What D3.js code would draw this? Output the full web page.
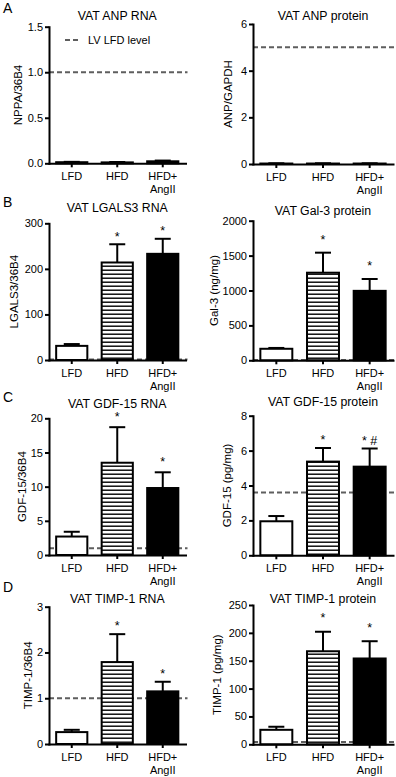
<!DOCTYPE html>
<html>
<head>
<meta charset="utf-8">
<script src="https://cdn.jsdelivr.net/npm/d3@7"></script>
<style>
  body { margin: 0; background: #fff; }
  svg { display: block; font-family: "Liberation Sans", Arial, sans-serif; }
</style>
</head>
<body>
<svg id="chart" width="396" height="777"></svg>
<script>
// groups (x categories), second line of the label after "\n"
const groups = ["LFD", "HFD", "HFD+\nAngII"];

// A: ANP
const anpRnaMean = [0.012, 0.010, 0.022];
const anpRnaSem = [0.004, 0.004, 0.008];
const anpRnaTicks = [0, 0.5, 1.0, 1.5];
const anpRnaStars = ["", "", ""];
const anpProtMean = [0.02, 0.02, 0.02];
const anpProtSem = [0.01, 0.01, 0.01];
const anpProtTicks = [0, 2, 4, 6];
const anpProtStars = ["", "", ""];

// B: LGALS3 / Gal-3
const lgals3RnaMean = [31, 214, 233];
const lgals3RnaSem = [4, 40, 33];
const lgals3RnaTicks = [0, 100, 200, 300];
const lgals3RnaStars = ["", "*", "*"];
const gal3ProtMean = [165, 1255, 995];
const gal3ProtSem = [12, 287, 170];
const gal3ProtTicks = [0, 500, 1000, 1500, 2000];
const gal3ProtStars = ["", "*", "*"];

// C: GDF-15
const gdf15RnaMean = [2.7, 13.5, 9.8];
const gdf15RnaSem = [0.7, 5.2, 2.3];
const gdf15RnaTicks = [0, 5, 10, 15, 20];
const gdf15RnaStars = ["", "*", "*"];
const gdf15ProtMean = [1.95, 5.37, 5.08];
const gdf15ProtSem = [0.3, 0.78, 1.04];
const gdf15ProtTicks = [0, 2, 4, 6, 8];
const gdf15ProtStars = ["", "*", "* #"];

// D: TIMP-1
const timp1RnaMean = [0.26, 1.79, 1.15];
const timp1RnaSem = [0.05, 0.61, 0.21];
const timp1RnaTicks = [0, 1, 2, 3];
const timp1RnaStars = ["", "*", "*"];
const timp1ProtMean = [26, 167, 154];
const timp1ProtSem = [5.5, 35, 31];
const timp1ProtTicks = [0, 50, 100, 150, 200, 250];
const timp1ProtStars = ["", "*", "*"];

// LV LFD reference level per panel
const refLevels = { anpRna: 1.0, anpProt: 5, lgals3Rna: 1, gal3Prot: 5, gdf15Rna: 1.0, gdf15Prot: 3.6, timp1Rna: 1.0, timp1Prot: 4 };

const cols = [{ x0: 49, x1: 185.5 }, { x0: 253, x1: 393 }];

const panels = [
  { key: "anpRna", col: 0, letter: "A", letterY: 13, title: "VAT ANP RNA", titleY: 20, ylabel: "NPPA/36B4", ylabX: 18,
    mean: anpRnaMean, sem: anpRnaSem, ticks: anpRnaTicks, stars: anpRnaStars, fmt: ".1f", yb: 163.3, yt: 26.7, starGap: 12, legend: true },
  { key: "anpProt", col: 1, title: "VAT ANP protein", titleY: 20, ylabel: "ANP/GAPDH", ylabX: 228,
    mean: anpProtMean, sem: anpProtSem, ticks: anpProtTicks, stars: anpProtStars, fmt: "d", yb: 164, yt: 24, starGap: 12 },
  { key: "lgals3Rna", col: 0, letter: "B", letterY: 207, title: "VAT LGALS3 RNA", titleY: 212, ylabel: "LGALS3/36B4", ylabX: 13.5,
    mean: lgals3RnaMean, sem: lgals3RnaSem, ticks: lgals3RnaTicks, stars: lgals3RnaStars, fmt: "d", yb: 360, yt: 223.3, starGap: 10.5 },
  { key: "gal3Prot", col: 1, title: "VAT Gal-3 protein", titleY: 215, ylabel: "Gal-3 (ng/mg)", ylabX: 214,
    mean: gal3ProtMean, sem: gal3ProtSem, ticks: gal3ProtTicks, stars: gal3ProtStars, fmt: "d", yb: 360.3, yt: 220.7, starGap: 15.5 },
  { key: "gdf15Rna", col: 0, letter: "C", letterY: 402, title: "VAT GDF-15 RNA", titleY: 408, ylabel: "GDF-15/36B4", ylabX: 22,
    mean: gdf15RnaMean, sem: gdf15RnaSem, ticks: gdf15RnaTicks, stars: gdf15RnaStars, fmt: "d", yb: 555, yt: 418.3, starGap: 13 },
  { key: "gdf15Prot", col: 1, title: "VAT GDF-15 protein", titleY: 406, ylabel: "GDF-15 (pg/mg)", ylabX: 227.3,
    mean: gdf15ProtMean, sem: gdf15ProtSem, ticks: gdf15ProtTicks, stars: gdf15ProtStars, fmt: "d", yb: 555.3, yt: 415.7, starGap: 11 },
  { key: "timp1Rna", col: 0, letter: "D", letterY: 592, title: "VAT TIMP-1 RNA", titleY: 603, ylabel: "TIMP-1/36B4", ylabX: 27.5,
    mean: timp1RnaMean, sem: timp1RnaSem, ticks: timp1RnaTicks, stars: timp1RnaStars, fmt: "d", yb: 744, yt: 606.7, starGap: 11 },
  { key: "timp1Prot", col: 1, title: "VAT TIMP-1 protein", titleY: 603, ylabel: "TIMP-1 (pg/mg)", ylabX: 216.5,
    mean: timp1ProtMean, sem: timp1ProtSem, ticks: timp1ProtTicks, stars: timp1ProtStars, fmt: "d", yb: 744.3, yt: 605, starGap: 16.5 }
];

const svg = d3.select("#chart");

// horizontal stripe fill for the HFD bars
svg.append("defs").append("pattern")
  .attr("id", "stripes")
  .attr("patternUnits", "userSpaceOnUse")
  .attr("width", 8).attr("height", 4)
  .call(p => {
    p.append("rect").attr("width", 8).attr("height", 4).attr("fill", "#fff");
    p.append("rect").attr("y", 1.5).attr("width", 8).attr("height", 1.4).attr("fill", "#000");
  });

const fills = ["#fff", "url(#stripes)", "#000"];

panels.forEach(p => {
  const c = cols[p.col];
  const g = svg.append("g");

  const x = d3.scaleBand().domain(groups).range([c.x0, c.x1])
    .paddingInner(0.315).paddingOuter(0.1575);
  const y = d3.scaleLinear().domain([0, d3.max(p.ticks)]).range([p.yb, p.yt]);

  // reference line (behind bars)
  g.append("line")
    .attr("x1", c.x0).attr("x2", c.x1 + 2)
    .attr("y1", y(refLevels[p.key])).attr("y2", y(refLevels[p.key]))
    .attr("stroke", "#5e5e5e").attr("stroke-width", 2)
    .attr("stroke-dasharray", "5,3");

  // error bars (upper only)
  groups.forEach((grp, i) => {
    const cx = x(grp) + x.bandwidth() / 2;
    const top = y(p.mean[i] + p.sem[i]);
    g.append("line").attr("x1", cx).attr("x2", cx)
      .attr("y1", y(p.mean[i])).attr("y2", top)
      .attr("stroke", "#000").attr("stroke-width", 2);
    g.append("line").attr("x1", cx - 8).attr("x2", cx + 8)
      .attr("y1", top).attr("y2", top)
      .attr("stroke", "#000").attr("stroke-width", 2);
    if (p.stars[i]) {
      g.append("text").attr("x", cx).attr("y", top - p.starGap + 7)
        .attr("text-anchor", "middle").attr("font-size", 12.5)
        .text(p.stars[i]);
    }
  });

  // bars
  g.selectAll("rect.bar").data(groups).join("rect")
    .attr("class", "bar")
    .attr("x", d => x(d))
    .attr("width", x.bandwidth())
    .attr("y", (d, i) => y(p.mean[i]))
    .attr("height", (d, i) => y(0) - y(p.mean[i]))
    .attr("fill", (d, i) => fills[i])
    .attr("stroke", "#000").attr("stroke-width", 2);

  // y axis
  const ya = g.append("g")
    .attr("transform", `translate(${c.x0},0)`)
    .call(d3.axisLeft(y).tickValues(p.ticks).tickSize(4).tickPadding(2)
      .tickSizeOuter(0).tickFormat(d3.format(p.fmt)));

  // x axis
  const xa = g.append("g")
    .attr("transform", `translate(0,${p.yb})`)
    .call(d3.axisBottom(x).tickSize(4).tickSizeOuter(0).tickFormat(""));
  xa.selectAll(".tick").append("text")
    .attr("fill", "#000").attr("text-anchor", "middle")
    .each(function (d) {
      const t = d3.select(this);
      d.split("\n").forEach((line, k) => {
        t.append("tspan").attr("x", 0).attr("y", 16.5 + k * 13).text(line);
      });
    });

  [ya, xa].forEach(a => {
    a.attr("font-family", null).attr("font-size", 11);
    a.select(".domain").attr("stroke-width", 2).attr("stroke-linecap", "square");
    a.selectAll(".tick line").attr("stroke-width", 2);
    a.selectAll("text").attr("fill", "#000");
  });

  // y label
  g.append("text")
    .attr("transform", `translate(${p.ylabX + 4},${(p.yt + p.yb) / 2}) rotate(-90)`)
    .attr("text-anchor", "middle").attr("font-size", 11.5)
    .text(p.ylabel);

  // title
  g.append("text")
    .attr("x", (c.x0 + c.x1) / 2).attr("y", p.titleY)
    .attr("text-anchor", "middle").attr("font-size", 12.3)
    .text(p.title);

  if (p.letter) {
    svg.append("text").attr("x", 3).attr("y", p.letterY)
      .attr("font-size", 14).text(p.letter);
  }

  if (p.legend) {
    const ly = 40;
    g.append("line").attr("x1", 65).attr("x2", 78).attr("y1", ly).attr("y2", ly)
      .attr("stroke", "#5e5e5e").attr("stroke-width", 2).attr("stroke-dasharray", "5,3");
    g.append("text").attr("x", 88).attr("y", ly + 4).attr("font-size", 11)
      .text("LV LFD level");
  }
});
</script>
</body>
</html>
